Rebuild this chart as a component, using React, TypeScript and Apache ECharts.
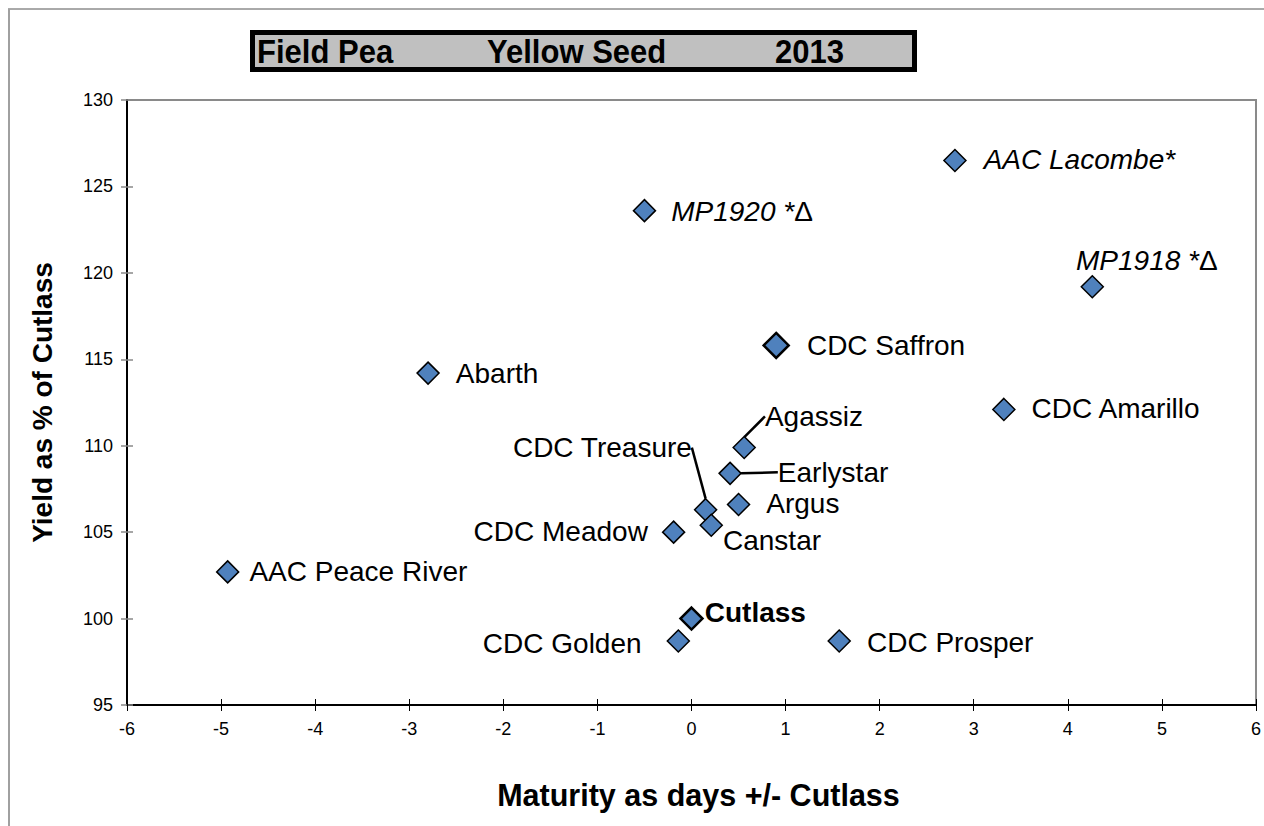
import React, { useEffect, useRef } from "react";
import * as echarts from "echarts";

const varieties = [
  "AAC Peace River", "Abarth", "MP1920", "AAC Lacombe", "MP1918", "CDC Saffron",
  "CDC Amarillo", "Agassiz", "Earlystar", "Argus", "CDC Treasure", "Canstar",
  "CDC Meadow", "Cutlass", "CDC Golden", "CDC Prosper",
];
const maturityDays = [-4.93, -2.8, -0.5, 2.8, 4.26, 0.9, 3.32, 0.56, 0.41, 0.5, 0.15, 0.21, -0.19, 0, -0.14, 1.57];
const yieldPct = [102.7, 114.2, 123.6, 126.5, 119.2, 115.8, 112.1, 109.9, 108.4, 106.6, 106.3, 105.4, 105.0, 100, 98.7, 98.7];

const xTicks = { min: -6, max: 6, interval: 1 };
const yTicks = { min: 95, max: 130, interval: 5 };

const titleParts = ["Field Pea", "Yellow Seed", "2013"];
const xTitle = "Maturity as days +/- Cutlass";
const yTitle = "Yield as % of Cutlass";

// label placement (styling only)
const labelStyle: Record<string, { pos: string; dx: number; dy: number; kind?: string; line?: boolean }> = {
  "AAC Peace River": { pos: "right", dx: -6, dy: 0 },
  Abarth: { pos: "right", dx: 0, dy: 0 },
  MP1920: { pos: "right", dx: -1, dy: 1, kind: "delta" },
  "AAC Lacombe": { pos: "right", dx: 1, dy: -1, kind: "italic" },
  MP1918: { pos: "right", dx: -44, dy: -26, kind: "delta" },
  "CDC Saffron": { pos: "right", dx: 1, dy: 0 },
  "CDC Amarillo": { pos: "right", dx: 0, dy: -1 },
  Agassiz: { pos: "right", dx: -7, dy: -31, line: true },
  Earlystar: { pos: "right", dx: 20, dy: -1, line: true },
  Argus: { pos: "right", dx: 0, dy: -1 },
  "CDC Treasure": { pos: "left", dx: 14, dy: -62, line: true },
  Canstar: { pos: "right", dx: -16, dy: 15 },
  "CDC Meadow": { pos: "left", dx: 2, dy: -1 },
  Cutlass: { pos: "right", dx: -15, dy: -6, kind: "bold" },
  "CDC Golden": { pos: "left", dx: -9, dy: 2 },
  "CDC Prosper": { pos: "right", dx: 0, dy: 1 },
};

const FONT = "'Liberation Sans', Arial, sans-serif";

export default function App() {
  const ref = useRef<HTMLDivElement>(null);
  useEffect(() => {
    if (!ref.current) return;
    const chart = echarts.init(ref.current, undefined, { renderer: "svg" });

    const data = varieties.map((name, i) => {
      const s = labelStyle[name];
      const item: any = {
        name,
        value: [maturityDays[i], yieldPct[i]],
        label: { position: s.pos },
      };
      if (s.kind === "italic") {
        item.label.formatter = "{i|{b}*}";
      } else if (s.kind === "delta") {
        item.label.formatter = "{i|{b} *}{n|Δ}";
      } else if (s.kind === "bold") {
        item.label.fontWeight = "bold";
      }
      if (s.line) {
        item.labelLine = { show: true, lineStyle: { color: "#000", width: 2.5 } };
      }
      if (name === "CDC Saffron") {
        item.symbolSize = 25;
        item.itemStyle = { borderWidth: 2.5 };
      }
      if (name === "Cutlass") {
        item.itemStyle = { borderWidth: 2.5 };
      }
      return item;
    });

    const titleText = (text: string, x: number) => ({
      type: "text",
      x,
      y: 52,
      scaleX: 0.94,
      style: { text, font: `bold 33px ${FONT}`, fill: "#000", verticalAlign: "middle" },
    });

    const option: any = {
      animation: false,
      backgroundColor: "#fff",
      grid: {
        left: 127,
        top: 100,
        width: 1131,
        height: 605,
        show: true,
        borderColor: "#8a8a8a",
        borderWidth: 2,
        backgroundColor: "transparent",
      },
      xAxis: [
        {
          type: "value",
          ...xTicks,
          name: xTitle,
          nameLocation: "middle",
          nameGap: 74,
          nameTextStyle: { fontFamily: FONT, fontSize: 30.5, fontWeight: "bold", color: "#000", padding: [0, 0, 0, 14] },
          axisLine: { show: true, onZero: false, lineStyle: { color: "#000", width: 2 } },
          axisTick: { show: true, length: 6, lineStyle: { color: "#000", width: 1 } },
          axisLabel: { fontFamily: FONT, fontSize: 18, color: "#000", margin: 15 },
          splitLine: { show: false },
        },
        {
          type: "value",
          ...xTicks,
          position: "bottom",
          axisLine: { show: false, onZero: false },
          axisTick: { show: true, inside: true, length: 6, lineStyle: { color: "#000", width: 1 } },
          axisLabel: { show: false },
          splitLine: { show: false },
        },
      ],
      yAxis: [
        {
          type: "value",
          ...yTicks,
          name: yTitle,
          nameLocation: "middle",
          nameGap: 71,
          nameTextStyle: { fontFamily: FONT, fontSize: 28, fontWeight: "bold", color: "#000" },
          axisLine: { show: true, onZero: false, lineStyle: { color: "#000", width: 2 } },
          axisTick: { show: true, length: 6, lineStyle: { color: "#888", width: 1.5 } },
          axisLabel: { fontFamily: FONT, fontSize: 18, color: "#000", margin: 14 },
          splitLine: { show: false },
        },
        {
          type: "value",
          ...yTicks,
          position: "left",
          axisLine: { show: false, onZero: false },
          axisTick: { show: true, inside: true, length: 6, lineStyle: { color: "#888", width: 1.5 } },
          axisLabel: { show: false },
          splitLine: { show: false },
        },
      ],
      graphic: [
        { type: "line", shape: { x1: 8, y1: 9, x2: 1264, y2: 9 }, style: { stroke: "#555", lineWidth: 1 }, silent: true },
        { type: "line", shape: { x1: 9, y1: 9, x2: 9, y2: 826 }, style: { stroke: "#a0a0a0", lineWidth: 2 }, silent: true },
        {
          type: "rect",
          shape: { x: 252.5, y: 32.5, width: 662, height: 37 },
          style: { fill: "#c0c0c0", stroke: "#000", lineWidth: 5 },
          silent: true,
        },
        titleText(titleParts[0], 257),
        titleText(titleParts[1], 487),
        titleText(titleParts[2], 775),
      ],
      series: [
        {
          type: "scatter",
          xAxisIndex: 0,
          yAxisIndex: 0,
          symbol: "diamond",
          symbolSize: 22,
          itemStyle: { color: "#4f81bd", borderColor: "#000", borderWidth: 1.5, opacity: 1 },
          label: {
            show: true,
            formatter: "{b}",
            distance: 16,
            color: "#000",
            fontFamily: FONT,
            fontSize: 28,
            rich: {
              i: { fontStyle: "italic", fontFamily: FONT, fontSize: 28, color: "#000" },
              n: { fontFamily: FONT, fontSize: 28, color: "#000" },
            },
          },
          labelLine: { show: false },
          labelLayout: (params: any) => {
            const s = labelStyle[varieties[params.dataIndex]];
            return { dx: s.dx, dy: s.dy };
          },
          emphasis: { disabled: true },
          data,
        },
      ],
    };
    chart.setOption(option);
    return () => chart.dispose();
  }, []);
  return <div ref={ref} style={{ position: "absolute", left: 0, top: 0, width: 1264, height: 826 }} />;
}
